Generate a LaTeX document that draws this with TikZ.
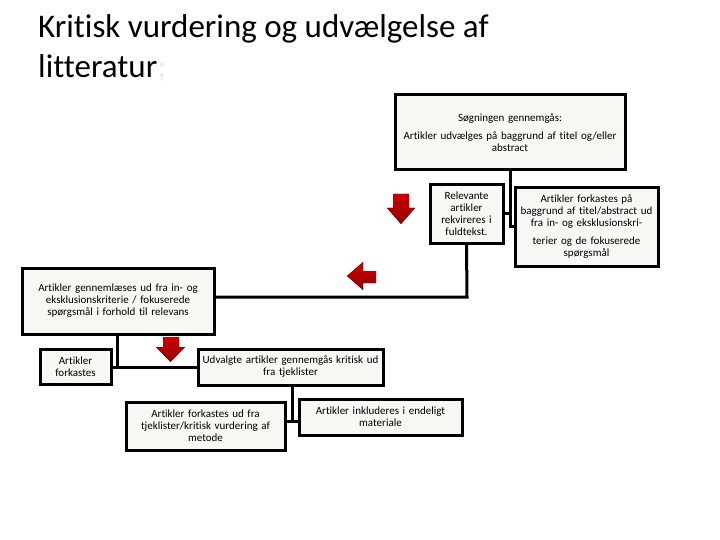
\documentclass[tikz,border=0pt]{standalone}
\usepackage{fontspec}
\setmainfont{Carlito}[Ligatures=NoCommon]
\definecolor{boxfill}{RGB}{248,247,244}
\definecolor{arrred}{RGB}{200,0,0}
\definecolor{arrdark}{RGB}{150,0,0}
\definecolor{faint}{RGB}{238,236,226}
\begin{document}
\begin{tikzpicture}[x=1pt,y=-1pt,
  box/.style={draw=black,line width=3pt,fill=boxfill,inner sep=2pt,align=center,
    font=\fontsize{11}{12}\selectfont},
  conn/.style={line width=3pt},
  redarrow/.style={top color=arrred,bottom color=arrdark,draw=none},
  title/.style={font=\fontsize{33}{40}\selectfont,anchor=base west,inner sep=0pt}]
\useasboundingbox (0,0) rectangle (720,540);
% title
\node[title] (t1) at (38,38) {Kritisk vurdering og udvælgelse af};
\node[title] (t2) at (38,78) {litteratur{\color{faint};}};
% boxes
\node[box,minimum width=230pt,minimum height=75pt,text width=224pt] (b1) at (510,132.5)
  {Søgningen gennemgås:\\[6pt] Artikler udvælges på baggrund af titel og/eller\\ abstract};
\node[box,minimum width=73pt,minimum height=58pt,text width=68pt] (b2) at (466.5,214)
  {Relevante\\ artikler\\ rekvireres i\\ fuldtekst.};
\node[box,minimum width=143pt,minimum height=78pt,text width=139pt] (b3) at (586.5,227)
  {Artikler forkastes på\\ baggrund af titel/abstract ud\\ fra in- og eksklusionskri-\\[6pt] terier og de fokuserede\\ spørgsmål};
\node[box,minimum width=192pt,minimum height=66pt,text width=186pt] (b4) at (118,301)
  {Artikler gennemlæses ud fra in- og\\ eksklusionskriterie / fokuserede\\ spørgsmål i forhold til relevans};
\node[box,minimum width=71pt,minimum height=35pt,text width=66pt] (b5) at (75.5,367)
  {Artikler\\ forkastes};
\node[box,minimum width=185pt,minimum height=36pt,text width=180pt] (b6) at (290.5,367)
  {Udvalgte artikler gennemgås kritisk ud\\ fra tjeklister};
\node[box,minimum width=159pt,minimum height=48pt,text width=154pt] (b7) at (205.5,426)
  {Artikler forkastes ud fra\\ tjeklister/kritisk vurdering af\\ metode};
\node[box,minimum width=163pt,minimum height=36pt,text width=158pt] (b8) at (380.5,417)
  {Artikler inkluderes i endeligt\\ materiale};
% connectors
\coordinate (j1) at (510,227);
\draw[conn] (b1.south) -- (j1) -- (j1 -| b3.west);
\draw[conn] (b2.east) -- (b2.east -| j1);
\coordinate (j2) at (467,297);
\draw[conn] (b2.south) -- (j2) -- (j2 -| b4.east);
\coordinate (j3) at (117,367);
\draw[conn] (b4.south -| j3) -- (j3);
\draw[conn] (b5.east) -- (b6.west);
\coordinate (j4) at (292,421);
\draw[conn] (b6.south -| j4) -- (j4);
\draw[conn] (j4 -| b7.east) -- (j4 -| b8.west);
% red arrows
\fill[redarrow] (393,194) -- (409,194) -- (409,208) -- (415,208) -- (401,224) -- (387,208) -- (393,208) -- cycle;
\fill[redarrow] (376,271) -- (376,283) -- (363,283) -- (363,290) -- (347,276) -- (363,262) -- (363,271) -- cycle;
\fill[redarrow] (163,337) -- (179,337) -- (179,347) -- (185,347) -- (170.5,362) -- (156,347) -- (163,347) -- cycle;
\end{tikzpicture}
\end{document}
